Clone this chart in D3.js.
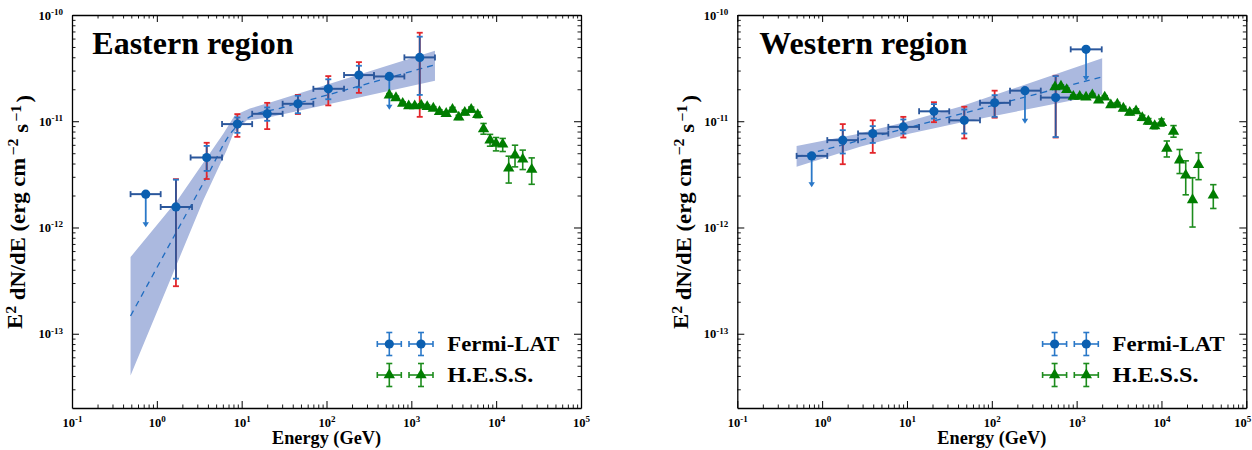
<!DOCTYPE html>
<html><head><meta charset="utf-8">
<script src="https://cdn.jsdelivr.net/npm/d3@7"></script>
<style>body{margin:0;background:#fff}</style>
</head><body><svg id="c" width="1252" height="450"></svg>
<script>
// ---------------- data ----------------
const xTicks = [1e-1, 1e0, 1e1, 1e2, 1e3, 1e4, 1e5];
const yTicks = [1e-13, 1e-12, 1e-11, 1e-10];
const yDomain = [2e-14, 1e-10];
const panelTitles = ["Eastern region", "Western region"];
const legendLabels = ["Fermi-LAT", "H.E.S.S."];
const xTitle = "Energy (GeV)";

// Eastern region, Fermi-LAT
const eastFermiE    = [0.74, 1.68, 3.87, 8.9, 20, 46, 105, 241, 550, 1256];
const eastFermiF    = [2.06e-12, 1.56e-12, 4.56e-12, 9.4e-12, 1.175e-11, 1.46e-11, 2.02e-11, 2.72e-11, 2.64e-11, 3.99e-11];
const eastFermiElo  = [0.49, 1.11, 2.5, 5.87, 13.3, 30.4, 70, 161, 363, 828];
const eastFermiEhi  = [1.11, 2.6, 5.87, 13.3, 30.4, 70, 161, 363, 828, 1900];
const eastStatLo    = [null, 3.3e-13, 3.41e-12, 7.78e-12, 1.01e-11, 1.19e-11, 1.61e-11, 2.08e-11, null, 1.77e-11];
const eastStatHi    = [null, 2.82e-12, 5.86e-12, 1.085e-11, 1.35e-11, 1.74e-11, 2.48e-11, 3.33e-11, null, 6.25e-11];
const eastTotLo     = [null, 2.8e-13, 2.86e-12, 7.13e-12, 8.43e-12, 1.17e-11, 1.41e-11, 1.85e-11, null, 1.10e-11];
const eastTotHi     = [null, 2.85e-12, 6.27e-12, 1.167e-11, 1.49e-11, 1.77e-11, 2.66e-11, 3.6e-11, null, 6.81e-11];
const eastULTip     = [1.03e-12, null, null, null, null, null, null, null, 1.31e-11, null];
// Eastern region, fit band and model
const eastBandUpE = [0.49, 1.79, 6.1, 8.3, 12.5, 23.6, 1900];
const eastBandUpF = [5.27e-13, 1.85e-12, 7.67e-12, 1.14e-11, 1.32e-11, 1.53e-11, 4.6e-11];
const eastBandLoE = [0.49, 3.53, 6.67, 7.96, 11.5, 20, 1900];
const eastBandLoF = [4.05e-14, 1.80e-12, 5.35e-12, 7.67e-12, 1.02e-11, 1.08e-11, 2.4e-11];
const eastModelE  = [0.49, 3.87, 7.6, 12.5, 30, 1900];
const eastModelF  = [1.47e-13, 2.99e-12, 7.9e-12, 1.1e-11, 1.34e-11, 3.4e-11];
// Eastern region, H.E.S.S.
const eastHessE  = [550, 659, 791, 931, 1096, 1307, 1538, 1816, 2148, 2576, 3055, 3622, 4266, 5077, 6062, 7100, 8470, 9960, 11940, 14060, 16680, 20560, 26240];
const eastHessF  = [1.76e-11, 1.66e-11, 1.47e-11, 1.39e-11, 1.39e-11, 1.41e-11, 1.37e-11, 1.32e-11, 1.23e-11, 1.18e-11, 1.29e-11, 1.09e-11, 1.21e-11, 1.29e-11, 1.15e-11, 8.45e-12, 6.64e-12, 6.18e-12, 6.08e-12, 3.61e-12, 4.79e-12, 4.39e-12, 3.51e-12];
const eastHessLo = [1.70e-11, 1.60e-11, 1.42e-11, 1.34e-11, 1.34e-11, 1.36e-11, 1.32e-11, 1.27e-11, 1.18e-11, 1.13e-11, 1.23e-11, 1.04e-11, 1.15e-11, 1.22e-11, 1.08e-11, 7.55e-12, 5.82e-12, 5.26e-12, 5.19e-12, 2.62e-12, 3.72e-12, 3.51e-12, 2.55e-12];
const eastHessHi = [1.82e-11, 1.72e-11, 1.52e-11, 1.44e-11, 1.44e-11, 1.46e-11, 1.42e-11, 1.37e-11, 1.28e-11, 1.23e-11, 1.35e-11, 1.14e-11, 1.27e-11, 1.36e-11, 1.22e-11, 9.53e-12, 7.52e-12, 7.03e-12, 6.89e-12, 4.69e-12, 5.95e-12, 5.35e-12, 4.52e-12];

// Western region, Fermi-LAT
const westFermiE   = [0.753, 1.75, 3.95, 9.06, 20.8, 47.4, 108, 246, 566, 1291];
const westFermiF   = [4.72e-12, 6.64e-12, 7.67e-12, 8.85e-12, 1.24e-11, 1.02e-11, 1.49e-11, 1.94e-11, 1.67e-11, 4.75e-11];
const westFermiElo = [0.50, 1.15, 2.65, 6.03, 13.9, 31.5, 72.6, 164, 378, 851];
const westFermiEhi = [1.15, 2.65, 6.03, 13.9, 31.5, 72.6, 164, 378, 851, 1977];
const westStatLo   = [null, 4.97e-12, 6.25e-12, 7.67e-12, 1.06e-11, 7.67e-12, 1.10e-11, null, 7.1e-12, null];
const westStatHi   = [null, 8.24e-12, 9.0e-12, 1.04e-11, 1.45e-11, 1.29e-11, 1.76e-11, null, 2.66e-11, null];
const westTotLo    = [null, 3.94e-12, 5.04e-12, 7.03e-12, 9.8e-12, 6.89e-12, 1.08e-11, null, 7.03e-12, null];
const westTotHi    = [null, 9.4e-12, 1.02e-11, 1.10e-11, 1.51e-11, 1.37e-11, 1.94e-11, null, 2.68e-11, null];
const westULTip    = [2.44e-12, null, null, null, null, null, null, 9.66e-12, null, 2.44e-11];
// Western region, fit band and model
const westBandUpE = [0.5, 2.8, 10.9, 42, 2000];
const westBandUpF = [5.86e-12, 7.67e-12, 1.01e-11, 1.37e-11, 3.91e-11];
const westBandLoE = [0.5, 2.8, 10.9, 42, 2000];
const westBandLoF = [3.72e-12, 5.74e-12, 7.67e-12, 9.66e-12, 1.79e-11];
const westModelE  = [0.5, 2000];
const westModelF  = [4.61e-12, 2.62e-11];
// Western region, H.E.S.S.
const westHessE  = [556, 654, 764, 914, 1087, 1290, 1531, 1822, 2143, 2529, 3018, 3551, 4224, 5015, 5934, 7003, 8323, 10020, 11560, 13870, 16370, 19320, 23230, 27350, 40830];
const westHessF  = [2.10e-11, 2.13e-11, 1.98e-11, 1.71e-11, 1.71e-11, 1.68e-11, 1.76e-11, 1.58e-11, 1.68e-11, 1.42e-11, 1.44e-11, 1.32e-11, 1.21e-11, 1.25e-11, 1.08e-11, 9.97e-12, 9.05e-12, 9.66e-12, 5.55e-12, 8.02e-12, 4.30e-12, 3.10e-12, 1.82e-12, 3.90e-12, 2.01e-12];
const westHessLo = [2.03e-11, 2.06e-11, 1.91e-11, 1.65e-11, 1.65e-11, 1.62e-11, 1.70e-11, 1.52e-11, 1.62e-11, 1.36e-11, 1.38e-11, 1.26e-11, 1.15e-11, 1.19e-11, 1.02e-11, 9.40e-12, 8.50e-12, 9.0e-12, 4.61e-12, 7.08e-12, 3.22e-12, 2.03e-12, 1.01e-12, 2.82e-12, 1.51e-12];
const westHessHi = [2.17e-11, 2.20e-11, 2.05e-11, 1.77e-11, 1.77e-11, 1.74e-11, 1.82e-11, 1.64e-11, 1.74e-11, 1.48e-11, 1.50e-11, 1.38e-11, 1.27e-11, 1.31e-11, 1.14e-11, 1.06e-11, 9.60e-12, 1.05e-11, 6.52e-12, 9.1e-12, 5.42e-12, 4.24e-12, 2.94e-12, 5.04e-12, 2.53e-12];

// ---------------- style ----------------
const FONT = '"Liberation Serif","Times New Roman",serif';
const C = {
  band: "#abb9df", model: "#1f6cc0", dark: "#2b579c", stat: "#2a78c8", red: "#e3262b",
  marker: "#0b5fb0", hess: "#007d00", hessErr: "#1d8c1d"
};

const svg = d3.select("#c");
const W = 509, TOP = 15, BOT = 408;

function supLabel(sel, d, last) {
  const t = d3.select(sel);
  t.text(null);
  if (last) t.attr("dx", -4);
  t.append("tspan").text("10");
  t.append("tspan").attr("dy", "-0.5em").attr("font-size", "0.72em").text(String(Math.round(Math.log10(d))));
}

function minorVals(lo, hi) {
  const out = [];
  for (let d = Math.floor(Math.log10(lo)); d < Math.ceil(Math.log10(hi)); d++)
    for (let k = 2; k <= 9; k++) { const v = k * Math.pow(10, d); if (v > lo && v < hi) out.push(v); }
  return out;
}

function drawPanel(P) {
  const g = svg.append("g").attr("transform", `translate(${P.left},0)`);
  const x = d3.scaleLog().domain([xTicks[0], xTicks[xTicks.length - 1]]).range([0, W]);
  const y = d3.scaleLog().domain(yDomain).range([BOT, TOP]);

  // band
  const up = P.bandUpE.map((e, i) => [x(e), y(P.bandUpF[i])]);
  const lo = P.bandLoE.map((e, i) => [x(e), y(P.bandLoF[i])]).reverse();
  g.append("path").attr("d", d3.line().curve(d3.curveLinearClosed)(up.concat(lo)))
    .attr("fill", C.band).attr("stroke", "none");
  // model
  g.append("path").attr("d", d3.line().curve(d3.curveMonotoneX)(P.modelE.map((e, i) => [x(e), y(P.modelF[i])])))
    .attr("fill", "none").attr("stroke", C.model).attr("stroke-width", 1.3).attr("stroke-dasharray", "6,5");

  // Fermi points
  const fg = g.append("g");
  P.fE.forEach((e, i) => {
    const cx = x(e), cy = y(P.fF[i]);
    const cap = 3;
    if (P.ulTip[i] == null) {
      fg.append("line").attr("x1", cx).attr("x2", cx).attr("y1", y(P.totLo[i])).attr("y2", y(P.totHi[i])).attr("stroke", C.red).attr("stroke-width", 1.8);
      [P.totLo[i], P.totHi[i]].forEach(v => fg.append("line").attr("x1", cx - cap).attr("x2", cx + cap).attr("y1", y(v)).attr("y2", y(v)).attr("stroke", C.red).attr("stroke-width", 1.8));
      fg.append("line").attr("x1", cx).attr("x2", cx).attr("y1", y(P.statLo[i])).attr("y2", y(P.statHi[i])).attr("stroke", C.dark).attr("stroke-width", 1.8);
      [P.statLo[i], P.statHi[i]].forEach(v => fg.append("line").attr("x1", cx - cap).attr("x2", cx + cap).attr("y1", y(v)).attr("y2", y(v)).attr("stroke", C.stat).attr("stroke-width", 1.8));
    } else {
      const ty = y(P.ulTip[i]);
      fg.append("line").attr("x1", cx).attr("x2", cx).attr("y1", cy).attr("y2", ty - 3).attr("stroke", C.stat).attr("stroke-width", 1.8);
      fg.append("path").attr("d", `M${cx - 3.2},${ty - 4}L${cx + 3.2},${ty - 4}L${cx},${ty + 1}Z`).attr("fill", C.stat);
    }
    fg.append("line").attr("x1", x(P.fElo[i])).attr("x2", x(P.fEhi[i])).attr("y1", cy).attr("y2", cy).attr("stroke", C.dark).attr("stroke-width", 2);
    [P.fElo[i], P.fEhi[i]].forEach(v => fg.append("line").attr("x1", x(v)).attr("x2", x(v)).attr("y1", cy - 3).attr("y2", cy + 3).attr("stroke", C.dark).attr("stroke-width", 1.8));
    fg.append("circle").attr("cx", cx).attr("cy", cy).attr("r", 4.6).attr("fill", C.marker);
  });

  // HESS points
  const hg = g.append("g");
  const tri = d3.symbol().type(d3.symbolTriangle).size(56);
  P.hE.forEach((e, i) => {
    const cx = x(e);
    hg.append("line").attr("x1", cx).attr("x2", cx).attr("y1", y(P.hLo[i])).attr("y2", y(P.hHi[i])).attr("stroke", C.hessErr).attr("stroke-width", 1.6);
    [P.hLo[i], P.hHi[i]].forEach(v => hg.append("line").attr("x1", cx - 3.2).attr("x2", cx + 3.2).attr("y1", y(v)).attr("y2", y(v)).attr("stroke", C.hessErr).attr("stroke-width", 1.6));
  });
  P.hE.forEach((e, i) => {
    hg.append("path").attr("d", tri).attr("transform", `translate(${x(e)},${y(P.hF[i])})`).attr("fill", C.hess);
  });

  // axes: minor ticks
  const majorX = xTicks, minorX = minorVals(xTicks[0], xTicks[xTicks.length - 1]);
  const majorY = yTicks, minorY = minorVals(yDomain[0], yDomain[1]);
  [
    [d3.axisBottom(x), `translate(0,${BOT})`, minorX],
    [d3.axisTop(x), `translate(0,${TOP})`, minorX],
    [d3.axisLeft(y), `translate(0,0)`, minorY],
    [d3.axisRight(y), `translate(${W},0)`, minorY]
  ].forEach(([a, tr, min]) => {
    const gm = g.append("g").attr("transform", tr)
      .call(a.tickValues(min).tickSize(-3.5).tickSizeOuter(0).tickFormat(""));
    gm.select(".domain").remove();
    gm.selectAll("line").attr("stroke-width", 0.9);
  });
  // axes: major ticks + labels
  [
    [d3.axisBottom(x), `translate(0,${BOT})`, majorX, true, "x"],
    [d3.axisTop(x), `translate(0,${TOP})`, majorX, false, "x"],
    [d3.axisLeft(y), `translate(0,0)`, majorY, true, "y"],
    [d3.axisRight(y), `translate(${W},0)`, majorY, false, "y"]
  ].forEach(([a, tr, maj, lab, k]) => {
    a.tickValues(maj).tickSize(-7).tickSizeOuter(0).tickPadding(k === "x" ? 10 : 9);
    const gm = g.append("g").attr("transform", tr).call(a);
    gm.attr("font-family", FONT);
    gm.select(".domain").attr("stroke-width", 1.3);
    gm.selectAll(".tick line").attr("stroke-width", 1);
    gm.selectAll(".tick text").attr("font-size", 12.5).attr("font-weight", "bold");
    if (lab) gm.selectAll(".tick text").each(function (d) { supLabel(this, d, k === "x" && d === maj[maj.length - 1] && P.right); });
    else gm.selectAll(".tick text").remove();
  });

  // title
  g.append("text").attr("x", P.titleX).attr("y", 54).attr("font-size", 32).text(P.title);

  // axis titles
  g.append("text").attr("x", W / 2).attr("y", 444).attr("text-anchor", "middle").attr("font-size", 18)
    .attr("textLength", 109).attr("lengthAdjust", "spacingAndGlyphs").text(xTitle);
  const yt = g.append("text").attr("transform", `translate(${P.yTitleX},${212}) rotate(-90)`)
    .attr("text-anchor", "middle").attr("font-size", 20.5)
    .attr("textLength", 234).attr("lengthAdjust", "spacingAndGlyphs");
  yt.append("tspan").text("E");
  yt.append("tspan").attr("dy", "-0.45em").attr("font-size", "0.7em").text("2");
  yt.append("tspan").attr("dy", "0.45em").text(" dN/dE (erg cm");
  yt.append("tspan").attr("dy", "-0.5em").attr("font-size", "0.7em").attr("dx", 2).text("\u22122");
  yt.append("tspan").attr("dy", "0.5em").text(" s");
  yt.append("tspan").attr("dy", "-0.5em").attr("font-size", "0.7em").attr("dx", 2).text("\u22121");
  yt.append("tspan").attr("dy", "0.5em").attr("dx", 2).text(")");

  // legend
  const lg = g.append("g");
  const rows = [{ y: 344, type: "fermi", len: 112 }, { y: 375, type: "hess", len: 86 }];
  rows.forEach((r, ri) => {
    [317.3, 349].forEach(mx => {
      const col = r.type === "fermi" ? C.stat : C.hessErr;
      lg.append("line").attr("x1", mx - 12).attr("x2", mx + 12).attr("y1", r.y).attr("y2", r.y).attr("stroke", col).attr("stroke-width", 1.6);
      lg.append("line").attr("x1", mx).attr("x2", mx).attr("y1", r.y - 11.5).attr("y2", r.y + 11.5).attr("stroke", col).attr("stroke-width", 1.6);
      [[mx - 12, r.y, "v"], [mx + 12, r.y, "v"], [mx, r.y - 11.5, "h"], [mx, r.y + 11.5, "h"]].forEach(([px, py, o]) => {
        if (o === "v") lg.append("line").attr("x1", px).attr("x2", px).attr("y1", py - 3).attr("y2", py + 3).attr("stroke", col).attr("stroke-width", 1.6);
        else lg.append("line").attr("x1", px - 3).attr("x2", px + 3).attr("y1", py).attr("y2", py).attr("stroke", col).attr("stroke-width", 1.6);
      });
      if (r.type === "fermi") lg.append("circle").attr("cx", mx).attr("cy", r.y).attr("r", 4.6).attr("fill", C.marker);
      else lg.append("path").attr("d", tri).attr("transform", `translate(${mx},${r.y})`).attr("fill", C.hess);
    });
    lg.append("text").attr("x", 375.3).attr("y", r.y + 7).attr("font-size", 21)
      .attr("textLength", r.len).attr("lengthAdjust", "spacingAndGlyphs").text(legendLabels[ri]);
  });

  g.selectAll("text").attr("font-family", FONT).attr("font-weight", "bold").attr("fill", "#000");
}

drawPanel({
  left: 72, right: false, title: panelTitles[0], titleX: 20.3, yTitleX: -50,
  fE: eastFermiE, fF: eastFermiF, fElo: eastFermiElo, fEhi: eastFermiEhi,
  statLo: eastStatLo, statHi: eastStatHi, totLo: eastTotLo, totHi: eastTotHi, ulTip: eastULTip,
  bandUpE: eastBandUpE, bandUpF: eastBandUpF, bandLoE: eastBandLoE, bandLoF: eastBandLoF,
  modelE: eastModelE, modelF: eastModelF,
  hE: eastHessE, hF: eastHessF, hLo: eastHessLo, hHi: eastHessHi
});
drawPanel({
  left: 737.3, right: true, title: panelTitles[1], titleX: 22, yTitleX: -49.3,
  fE: westFermiE, fF: westFermiF, fElo: westFermiElo, fEhi: westFermiEhi,
  statLo: westStatLo, statHi: westStatHi, totLo: westTotLo, totHi: westTotHi, ulTip: westULTip,
  bandUpE: westBandUpE, bandUpF: westBandUpF, bandLoE: westBandLoE, bandLoF: westBandLoF,
  modelE: westModelE, modelF: westModelF,
  hE: westHessE, hF: westHessF, hLo: westHessLo, hHi: westHessHi
});
</script>
</body></html>
